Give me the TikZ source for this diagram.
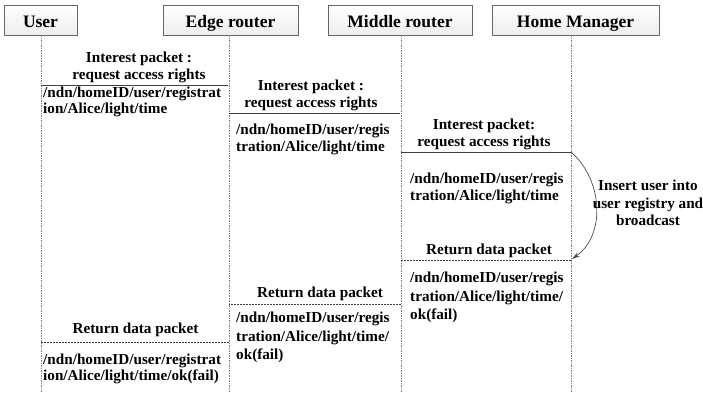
\documentclass[tikz,border=0pt]{standalone}
\usepackage{fontspec}
\setmainfont{Liberation Serif}
\usetikzlibrary{arrows.meta}
\begin{document}
\begin{tikzpicture}[x=1pt,y=-1pt,
  actor/.style={draw=gray!80!black, line width=0.6pt, top color=white, bottom color=gray!14,
    minimum height=30pt, inner sep=0pt, text height=15pt, text depth=0pt,
    font=\fontsize{17.5}{19}\selectfont\bfseries},
  lifeline/.style={draw=gray, line width=0.6pt, dash pattern=on 1.5pt off 1pt},
  req/.style={draw=black!75, line width=0.7pt},
  resp/.style={draw=black!75, line width=0.7pt, dash pattern=on 2pt off 1pt},
  lbl/.style={font=\fontsize{15.2}{16.5}\selectfont\bfseries, align=center, inner sep=0pt, anchor=south},
  path/.style={font=\fontsize{15.2}{16}\selectfont\bfseries, align=left, inner sep=0pt, anchor=north west},
]
\useasboundingbox (0,0) rectangle (703,392);

% participants
\node[actor, minimum width=73pt] (user) at (40.5,20) {User};
\node[actor, minimum width=135pt] (edge) at (230.5,20) {Edge router};
\node[actor, minimum width=144pt] (mid) at (400,20) {Middle router};
\node[actor, minimum width=167pt] (home) at (575.5,20) {Home Manager};

% lifelines
\coordinate (uT) at (41,35);  \coordinate (uB) at (41,392);
\coordinate (eT) at (229,35); \coordinate (eB) at (229,392);
\coordinate (mT) at (401,35); \coordinate (mB) at (401,392);
\coordinate (hT) at (571,35); \coordinate (hB) at (571,392);
\draw[lifeline] (uT) -- (uB);
\draw[lifeline] (eT) -- (eB);
\draw[lifeline] (mT) -- (mB);
\draw[lifeline] (hT) -- (hB);

% interest packets
\coordinate (r1a) at (41,85);   \coordinate (r1b) at (228,85);
\coordinate (r2a) at (229,113); \coordinate (r2b) at (400,113);
\coordinate (r3a) at (401,152); \coordinate (r3b) at (571,152);
\draw[req] (r1a) -- (r1b);
\draw[req] (r2a) -- (r2b);
\draw[req] (r3a) -- (r3b);

\node[lbl] (l1) at (139,83) {Interest packet :\\request access rights};
\node[path, font=\fontsize{15.2}{15.5}\selectfont\bfseries] (p1) at (43,87) {/ndn/homeID/user/registrat\\ion/Alice/light/time};

\node[lbl] (l2) at (311,111) {Interest packet :\\request access rights};
\node[path, font=\fontsize{15.2}{17}\selectfont\bfseries] (p2) at (236,124) {/ndn/homeID/user/regis\\tration/Alice/light/time};

\node[lbl] (l3) at (484,150) {Interest packet:\\request access rights};
\node[path, font=\fontsize{15.2}{16.5}\selectfont\bfseries] (p3) at (410,173) {/ndn/homeID/user/regis\\tration/Alice/light/time};

% processing at the home manager
\coordinate (c4) at (572,259);
\draw[line width=0.7pt, draw=black!70, -{Stealth[length=8pt,width=4.5pt]}]
  (r3b) .. controls (603,180) and (606,235) .. (c4);
\node[font=\fontsize{15.2}{17.5}\selectfont\bfseries, align=center, inner sep=0pt] (ins) at (648,203)
  {Insert user into\\user registry and\\broadcast};

% data packets
\coordinate (d1a) at (571,260); \coordinate (d1b) at (401,260);
\coordinate (d2a) at (401,304); \coordinate (d2b) at (229,304);
\coordinate (d3a) at (229,342); \coordinate (d3b) at (41,342);
\draw[resp] (d1a) -- (d1b);
\draw[resp] (d2a) -- (d2b);
\draw[resp] (d3a) -- (d3b);

\node[lbl] (l4) at (489,258) {Return data packet};
\node[path, font=\fontsize{15.2}{18.5}\selectfont\bfseries] (p4) at (410,272) {/ndn/homeID/user/regis\\tration/Alice/light/time/\\ok(fail)};

\node[lbl] (l5) at (320,301) {Return data packet};
\node[path, font=\fontsize{15.2}{18.5}\selectfont\bfseries] (p5) at (236,312) {/ndn/homeID/user/regis\\tration/Alice/light/time/\\ok(fail)};

\node[lbl] (l6) at (135.5,337) {Return data packet};
\node[path, font=\fontsize{15.2}{15.5}\selectfont\bfseries] (p6) at (43,354) {/ndn/homeID/user/registrat\\ion/Alice/light/time/ok(fail)};
\end{tikzpicture}
\end{document}
